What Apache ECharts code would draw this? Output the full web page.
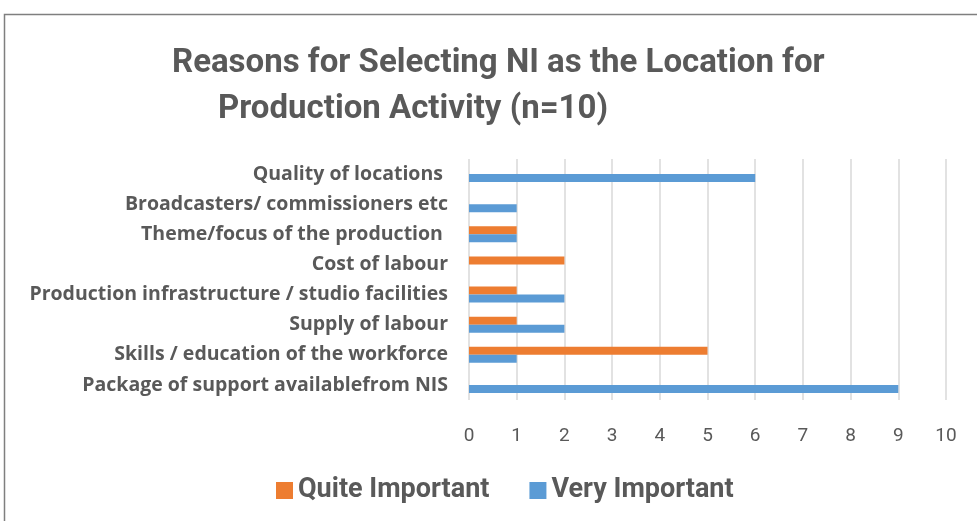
<!DOCTYPE html>
<html>
<head>
<meta charset="utf-8">
<title>Reasons for Selecting NI</title>
<script src="https://cdn.jsdelivr.net/npm/echarts@6/dist/echarts.min.js"></script>
<style>
  html, body { margin: 0; padding: 0; background: #fff; }
  #chart { width: 977px; height: 521px; }
</style>
</head>
<body>
<div id="chart"></div>
<script>
// categories listed bottom -> top (category y axis starts at the bottom)
const categories = [
  'Package of support availablefrom NIS',
  'Skills / education of the workforce',
  'Supply of labour',
  'Production infrastructure / studio facilities',
  'Cost of labour',
  'Theme/focus of the production ',
  'Broadcasters/ commissioners etc',
  'Quality of locations '
];
const quiteImportant = [0, 5, 1, 1, 2, 1, 0, 0];
const veryImportant = [9, 1, 2, 2, 0, 1, 1, 6];
const seriesNames = ['Quite Important', 'Very Important'];
const titleLines = [
  'Reasons for Selecting NI as the Location for',
  'Production Activity (n=10)'
];

const narrow = 'Roboto, sans-serif';
const textColor = '#595959';

const chart = echarts.init(document.getElementById('chart'));

const option = {
  animation: false,
  backgroundColor: '#fff',
  graphic: [{
    type: 'rect',
    shape: { x: 4.5, y: 14.5, width: 1000, height: 600 },
    style: { fill: 'none', stroke: '#7f7f7f', lineWidth: 1.5 },
    silent: true
  }],
  title: [
    {
      text: titleLines[0],
      left: 167, top: 42,
      textStyle: { fontFamily: narrow, fontSize: 33, fontWeight: 'bold', color: textColor }
    },
    {
      text: titleLines[1],
      left: 213, top: 88,
      textStyle: { fontFamily: narrow, fontSize: 33, fontWeight: 'bold', color: textColor }
    }
  ],
  legend: {
    left: 271,
    top: 472,
    itemWidth: 17,
    itemHeight: 17,
    itemGap: 40,
    icon: 'rect',
    textStyle: { fontFamily: narrow, fontSize: 27, fontWeight: 'bold', color: textColor },
    data: seriesNames
  },
  grid: { left: 469, right: 31, top: 159, bottom: 121 },
  xAxis: {
    type: 'value',
    min: 0, max: 10, interval: 1,
    axisLine: { show: false },
    axisTick: { show: false },
    splitLine: { show: true, lineStyle: { color: '#d9d9d9', width: 1.5 } },
    axisLabel: { margin: 27, fontFamily: narrow, fontSize: 19, color: textColor }
  },
  yAxis: {
    type: 'category',
    data: categories,
    axisLine: { show: false },
    axisTick: { show: false },
    axisLabel: {
      margin: 21,
      fontFamily: '"Open Sans", sans-serif',
      fontSize: 19.5,
      fontWeight: 'bold',
      color: textColor
    }
  },
  series: [
    {
      name: seriesNames[0],
      type: 'bar',
      data: quiteImportant,
      barWidth: 8,
      barGap: '0%',
      itemStyle: { color: '#ED7D31' }
    },
    {
      name: seriesNames[1],
      type: 'bar',
      data: veryImportant,
      barWidth: 8,
      barGap: '0%',
      itemStyle: { color: '#5B9BD5' }
    }
  ]
};

chart.setOption(option);
</script>
</body>
</html>
